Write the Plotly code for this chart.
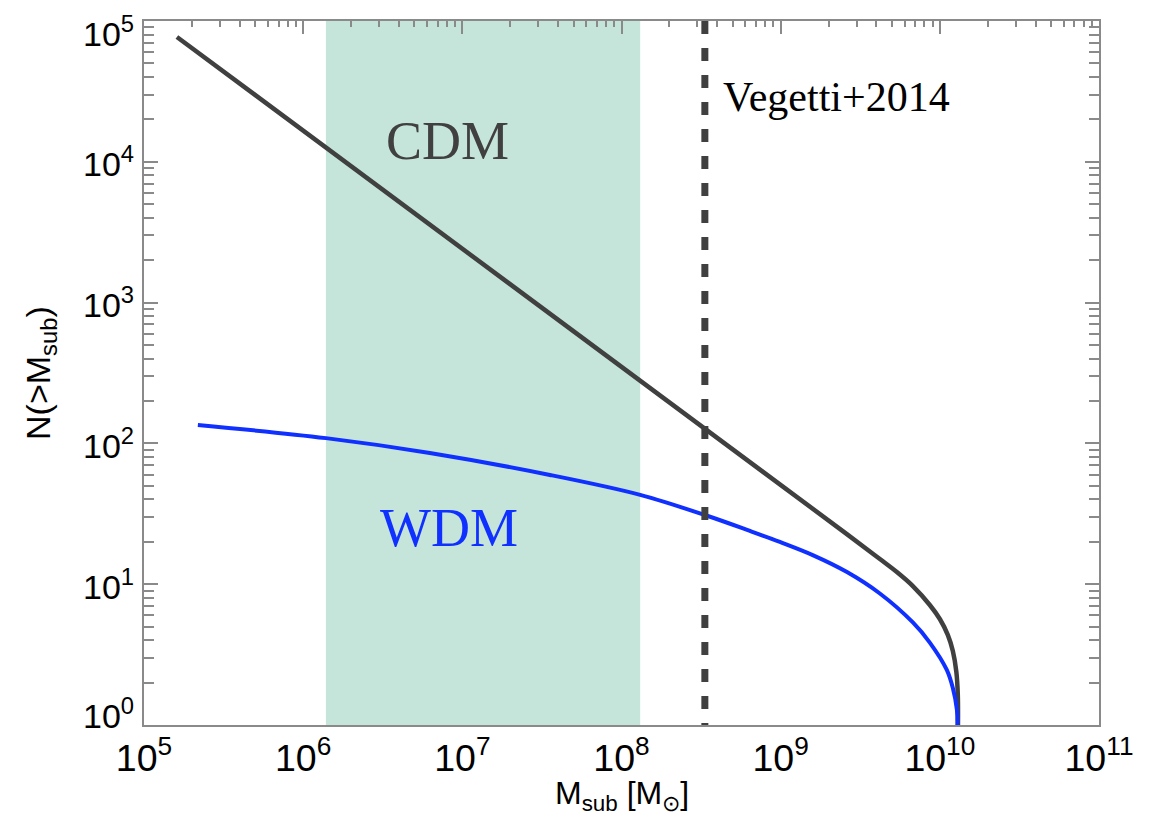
import plotly.graph_objects as go
import numpy as np

# ---- data ----
cdm_mass = [1.61e5, 2.605e9, 4.20e9, 5.37e9, 6.77e9, 8.65e9, 1.0e10, 1.122e10, 1.207e10, 1.27e10, 1.297e10, 1.30e10]
cdm_n    = [7.7e4, 22.7, 15.1, 12.2, 9.70, 7.12, 5.66, 4.36, 3.35, 2.38, 1.63, 1.0]

wdm_mass = [2.18e5, 1.39e6, 6.25e6, 3.55e7, 1.31e8, 3.34e8, 6.41e8, 9.89e8, 1.59e9, 2.61e9,
            4.20e9, 6.77e9, 8.65e9, 1.106e10, 1.207e10, 1.28e10, 1.29e10]
wdm_n    = [135, 109, 85.5, 59.7, 43.1, 31.0, 23.9, 19.95, 16.1, 12.2,
            8.59, 5.35, 3.85, 2.46, 1.83, 1.28, 1.0]

band_mass = [1.39e6, 1.31e8]      # shaded mass range
vegetti_mass = 3.34e8             # dashed vertical line
y_limits = [1.0, 1.0e5]
x_range_log = [5, 11]
y_range_log = [0, 5]
y_tick_vals = [1, 10, 100, 1000, 10000, 100000]
y_tick_text = ["10<sup>0</sup>", "10<sup>1</sup>", "10<sup>2</sup>", "10<sup>3</sup>",
               "10<sup>4</sup>", "10<sup>5</sup>"]

SANS = "Liberation Sans, Arial, Helvetica, sans-serif"
SERIF = "Liberation Serif, Times New Roman, serif"
AXC = "#8a8a8a"

fig = go.Figure()

# shaded band
fig.add_trace(go.Scatter(
    x=[band_mass[0], band_mass[0], band_mass[1], band_mass[1]],
    y=[y_limits[0], y_limits[1], y_limits[1], y_limits[0]],
    fill="toself", fillcolor="#c5e4da", line=dict(width=0),
    mode="lines", hoverinfo="skip", showlegend=False))

# CDM
fig.add_trace(go.Scatter(x=cdm_mass, y=cdm_n, mode="lines",
                         line=dict(color="#404040", width=4.5, shape="spline", smoothing=1.0),
                         showlegend=False))
# WDM
fig.add_trace(go.Scatter(x=wdm_mass, y=wdm_n, mode="lines",
                         line=dict(color="#1030ff", width=4, shape="spline", smoothing=1.0),
                         showlegend=False))
# Vegetti dashed line (drawn top to bottom)
fig.add_trace(go.Scatter(x=[vegetti_mass, vegetti_mass], y=y_limits[::-1], mode="lines",
                         line=dict(color="#404040", width=7, dash="13px,14px"),
                         showlegend=False))

# invisible trace on the top axis so it renders
fig.add_trace(go.Scatter(x=[1e6], y=[10], xaxis="x2", mode="markers",
                         marker=dict(opacity=0), hoverinfo="skip", showlegend=False))

# y tick labels as text (end labels nudged inward like the reference)
label_shift = {0: 12, 5: -10}
annotations = []
for i, (v, t) in enumerate(zip(y_tick_vals, y_tick_text)):
    annotations.append(dict(text=t, xref="paper", yref="y", x=0, y=np.log10(v),
                            xanchor="right", yanchor="middle", xshift=-8,
                            yshift=label_shift.get(i, 0), showarrow=False,
                            font=dict(family=SANS, size=34, color="black")))

annotations += [
    dict(text="CDM", xref="x", yref="y", x=np.log10(8.05e6), y=np.log10(1.4e4),
         showarrow=False, xanchor="center", yanchor="middle",
         font=dict(family=SERIF, size=54, color="#404040")),
    dict(text="WDM", xref="x", yref="y", x=np.log10(8.25e6), y=np.log10(25),
         showarrow=False, xanchor="center", yanchor="middle",
         font=dict(family=SERIF, size=54, color="#1030ff")),
    dict(text="Vegetti+2014", xref="x", yref="y", x=np.log10(4.2e8), y=np.log10(2.9e4),
         showarrow=False, xanchor="left", yanchor="middle",
         font=dict(family=SERIF, size=42, color="black")),
    dict(text="M<sub>sub</sub> [M<sub>⊙</sub>]", xref="paper", yref="paper", x=0.5, y=0,
         yshift=-70, showarrow=False, xanchor="center", yanchor="middle",
         font=dict(family=SANS, size=32, color="black")),
    dict(text="N(>M<sub>sub</sub>)", xref="paper", yref="paper", x=0, y=0.5,
         xshift=-104, showarrow=False, xanchor="center", yanchor="middle", textangle=-90,
         font=dict(family=SANS, size=34, color="black")),
]

fig.update_layout(
    width=1160, height=821,
    margin=dict(l=144, r=61, t=21, b=96, autoexpand=False),
    paper_bgcolor="white", plot_bgcolor="white",
    xaxis=dict(type="log", range=x_range_log, dtick=1, exponentformat="power", automargin=False,
               showgrid=False, zeroline=False, showline=True, linecolor=AXC, linewidth=2,
               ticks="", mirror=True,
               tickfont=dict(family=SANS, size=30, color="black")),
    xaxis2=dict(type="log", range=x_range_log, dtick=1, overlaying="x", side="top", automargin=False,
                showgrid=False, zeroline=False, showline=False, showticklabels=False,
                ticks="inside", ticklen=13, tickwidth=1.5, tickcolor=AXC,
                minor=dict(dtick="D1", ticks="inside", ticklen=6, tickwidth=1.5, tickcolor=AXC, showgrid=False)),
    yaxis=dict(type="log", range=y_range_log, tickmode="array", tickvals=y_tick_vals,
               showticklabels=False, automargin=False,
               showgrid=False, zeroline=False, showline=True, linecolor=AXC, linewidth=2,
               mirror="ticks", ticks="inside", ticklen=14, tickwidth=1.5, tickcolor=AXC,
               minor=dict(dtick="D1", ticks="inside", ticklen=10, tickwidth=1.5, tickcolor=AXC, showgrid=False)),
    annotations=annotations,
)

fig.write_html("out.html")
